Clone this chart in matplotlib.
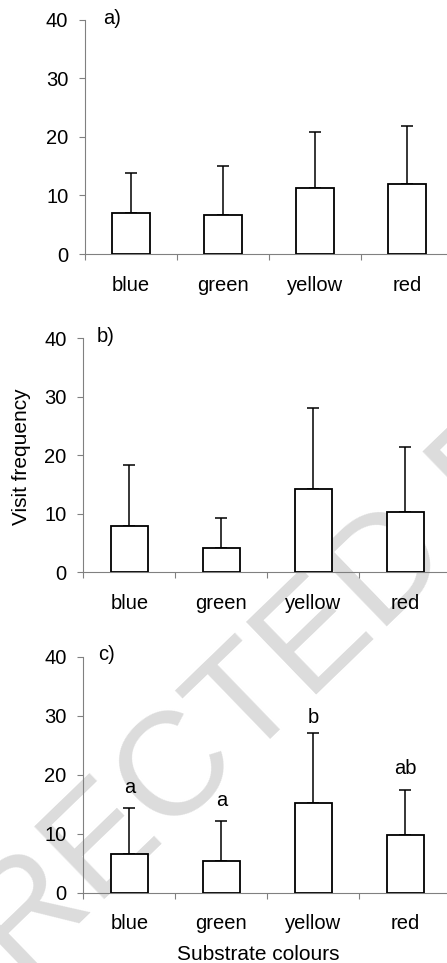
## Visit frequency per substrate colour, three trials a) b) c)

import matplotlib.pyplot as plt
import numpy as np

plt.rcParams['font.family'] = ['Liberation Sans', 'DejaVu Sans']

colours = ["blue", "green", "yellow", "red"]
panel_names = ["a)", "b)", "c)"]

# mean visit frequency and SD for each panel
means_a = [7.0, 6.7, 11.2, 12.0]
sd_a = [6.9, 8.4, 9.7, 9.9]
means_b = [8.0, 4.2, 14.2, 10.3]
sd_b = [10.4, 5.0, 13.9, 11.1]
means_c = [6.6, 5.3, 15.2, 9.7]
sd_c = [7.8, 6.9, 11.8, 7.7]

# significance letters (panel c only) and their heights
sig_letters = ["a", "a", "b", "ab"]
sig_y = [16.9, 14.7, 28.7, 20.2]

means = [means_a, means_b, means_c]
sds = [sd_a, sd_b, sd_c]

fig = plt.figure(figsize=(4.47, 9.63), dpi=100)
H = 963.0
W = 447.0

# watermark, sits behind the axes (zorder below the axes)
fig.text(220 / W, 1 - 735 / H, "UNCORRECTED PROOF", fontsize=106, color="#dcdcdc",
         rotation=44, ha="center", va="center", rotation_mode="anchor", zorder=-1)

# axes boxes in pixels: left, top(40), bottom(0)
boxes = [(85, 20, 254), (83.3, 338.3, 572.3), (83.3, 656.7, 892.7)]
label_x = [0.2, 0.15, 0.16]
cat_w = 92.0

x = np.arange(len(colours)) + 0.5
for i in range(3):
    left, top, bottom = boxes[i]
    ax = fig.add_axes([left / W, 1 - bottom / H, 4 * cat_w / W, (bottom - top) / H])
    ax.patch.set_alpha(0)
    ax.bar(x, means[i], width=0.405, color="white", edgecolor="black", linewidth=1.3, zorder=3)
    ax.errorbar(x, means[i], yerr=[np.zeros(4), sds[i]], fmt="none", ecolor="black",
                elinewidth=1.1, capsize=4, capthick=1.1, zorder=2)
    ax.set_xlim(0, 4)
    ax.set_ylim(0, 40)
    ax.set_yticks([0, 10, 20, 30, 40])
    ax.set_xticks([0, 1, 2, 3, 4])
    ax.set_xticklabels([])
    ax.set_xticks(x, minor=True)
    ax.set_xticklabels(colours, minor=True)
    ax.tick_params(axis="x", which="minor", length=0, pad=15.5, labelsize=14.5)
    ax.tick_params(axis="x", which="major", length=4.5, width=0.8, color="#808080", direction="out")
    ax.tick_params(axis="y", length=4.3, width=0.8, color="#808080", pad=7.7, labelsize=14.5)
    for s in ["top", "right"]:
        ax.spines[s].set_visible(False)
    for s in ["left", "bottom"]:
        ax.spines[s].set_color("#808080")
        ax.spines[s].set_linewidth(0.8)
    ax.text(label_x[i], 40.3, panel_names[i], fontsize=14.5, ha="left", va="center")
    if i == 2:
        for j in range(4):
            ax.text(x[j], sig_y[j], sig_letters[j], fontsize=14.5, ha="center", va="baseline")

fig.text(22 / W, 1 - 457 / H, "Visit frequency", fontsize=15, rotation=90, ha="center", va="center")
fig.text(258 / W, 1 - 960 / H, "Substrate colours", fontsize=15, ha="center", va="baseline")

plt.savefig("out.png", dpi=100)
